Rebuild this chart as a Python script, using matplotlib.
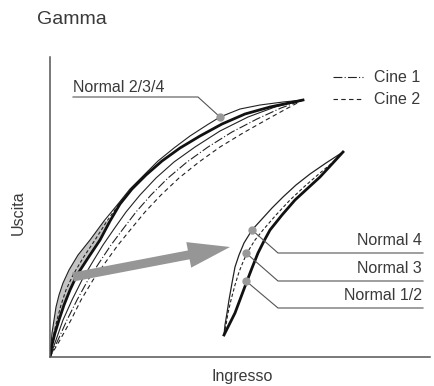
import matplotlib
matplotlib.use("Agg")
import matplotlib.pyplot as plt
from matplotlib.patches import Polygon

plt.rcParams["font.family"] = ["Liberation Sans", "DejaVu Sans"]

# points (x = Ingresso, y = Uscita, arbitrary units)
n234_x = [0, 1, 2, 4, 6, 9, 13, 19, 28, 40, 54, 68, 80, 94, 108, 124, 140, 157, 170, 190, 210, 233, 253]
n234_y = [0, 12, 24, 37, 50, 62, 74, 87, 102, 117, 136, 153, 168, 182, 196, 209, 221, 232, 240, 248, 252, 255, 257]
n12_x = [0, 2, 5, 9, 14, 20, 27, 38, 50, 60, 70, 82, 96, 112, 130, 150, 172, 195, 220, 253]
n12_y = [0, 12, 24, 37, 52, 67, 82, 99, 117, 136, 153, 168, 182, 196, 209, 221, 233, 243, 250, 257]
n3_x = [0, 2, 4, 7, 11, 16, 23, 33, 45, 57, 69]
n3_y = [0, 12, 24, 37, 52, 67, 82, 99, 117, 136, 153]
thin_x = [0, 6, 13, 22, 32, 42, 53, 64, 76, 90, 106, 124, 145, 170, 198, 225, 253]
thin_y = [0, 17, 37, 57, 77, 94, 112, 128, 145, 162, 179, 195, 210, 226, 240, 250, 257]
cine1_x = [0, 8, 17, 27, 38, 49, 61, 73, 86, 101, 118, 137, 158, 182, 207, 231, 253]
cine1_y = [0, 17, 37, 57, 77, 94, 112, 128, 145, 162, 179, 195, 210, 225, 238, 249, 257]
cine2_x = [0, 10, 21, 31, 43, 55, 68, 81, 95, 111, 129, 149, 170, 193, 216, 236, 253]
cine2_y = [0, 17, 37, 57, 77, 94, 112, 128, 145, 162, 179, 195, 210, 224, 237, 248, 257]

# zoomed detail on the right
z4_x = [174, 175, 177, 179, 182, 185, 189, 194, 202, 212, 222, 233, 246, 260, 276, 293]
z4_y = [22, 32, 44, 57, 74, 90, 102, 114, 127, 138, 149, 160, 172, 183, 194, 205]
z3_x = [174, 176, 178, 181, 185, 189, 193, 197, 205, 213, 226, 240, 255, 270, 282, 293]
z3_y = [22, 32, 44, 57, 72, 85, 95, 104, 117, 127, 142, 157, 171, 184, 194, 205]
z12_x = [174, 179, 185, 191, 197, 202, 208, 214, 220, 232, 245, 258, 270, 282, 293]
z12_y = [22, 32, 44, 60, 76, 89, 104, 116, 127, 142, 157, 169, 180, 193, 205]

zoom_labels = ["Normal 4", "Normal 3", "Normal 1/2"]
zoom_dots_x = [202, 196, 196]
zoom_dots_y = [127, 104, 76]
zoom_label_y = [104, 76, 49]

ink = "#222222"
txt = "#3a3a3a"
lead = "#555555"

fig = plt.figure(figsize=(4.34, 3.86), dpi=100)
ax = fig.add_axes([50 / 434, 29 / 386, 380 / 434, 300 / 386])
ax.set_xlim(0, 380)
ax.set_ylim(0, 300)
for s in ["top", "right"]:
    ax.spines[s].set_visible(False)
for s in ["left", "bottom"]:
    ax.spines[s].set_color("#555555")
    ax.spines[s].set_linewidth(1.1)
ax.set_xticks([])
ax.set_yticks([])

# grey band between the Normal 4 edge and Normal 1/2 on the main curves
band = list(zip(n234_x[:11], n234_y[:11])) + list(zip(n12_x[:10], n12_y[:10]))[::-1]
ax.add_patch(Polygon(band, closed=True, facecolor="#c4c4c4", edgecolor="none", zorder=1))

ax.plot(cine2_x, cine2_y, color=ink, lw=0.8, ls=(0, (4, 3)))
ax.plot(cine1_x, cine1_y, color=ink, lw=0.8, ls=(0, (8, 2, 1, 2)))
ax.plot(thin_x, thin_y, color=ink, lw=0.8)
ax.plot(n3_x, n3_y, color=ink, lw=0.8, ls=(0, (3, 2)))
ax.plot(n234_x, n234_y, color=ink, lw=0.8)
ax.plot(n12_x, n12_y, color="#111111", lw=2.0)

ax.plot(z3_x, z3_y, color=ink, lw=0.8, ls=(0, (3, 2)))
ax.plot(z4_x, z4_y, color=ink, lw=0.9)
ax.plot(z12_x, z12_y, color="#111111", lw=2.0)

# grey arrow pointing to the zoomed detail
ax.arrow(23, 80, 157, 30, width=9, head_width=26, head_length=42,
         length_includes_head=True, color="#969696", lw=0, zorder=4)

# Normal 2/3/4 callout
ax.plot([23, 148, 170], [260, 260, 240], color=lead, lw=0.8)
ax.plot(170, 240, "o", color="#999999", ms=5, zorder=5)
ax.text(23, 265, "Normal 2/3/4", fontsize=11.5, ha="left", va="baseline", color=txt)

for name, dx, dy, ly in zip(zoom_labels, zoom_dots_x, zoom_dots_y, zoom_label_y):
    ax.plot([dx, 228, 373], [dy, ly, ly], color=lead, lw=0.8)
    ax.plot(dx, dy, "o", color="#999999", ms=5, zorder=5)
    ax.text(372, ly + 8, name, fontsize=11.5, ha="right", va="baseline", color=txt)

# legend
ax.plot([283, 313], [280, 280], color=ink, lw=0.8, ls=(0, (8, 2, 1, 2)))
ax.text(324, 280, "Cine 1", fontsize=11.5, va="center", color=txt)
ax.plot([283, 313], [258, 258], color=ink, lw=0.8, ls=(0, (4, 3)))
ax.text(324, 258, "Cine 2", fontsize=11.5, va="center", color=txt)

fig.text(37 / 434, 1 - 20 / 386, "Gamma", fontsize=14, va="center", ha="left", color=txt)
fig.text(18 / 434, 1 - 213 / 386, "Uscita", fontsize=11.5, rotation=90, va="center", ha="center", color=txt)
fig.text(242 / 434, 1 - 376 / 386, "Ingresso", fontsize=11.5, va="center", ha="center", color=txt)

fig.savefig("out.png", dpi=100)
